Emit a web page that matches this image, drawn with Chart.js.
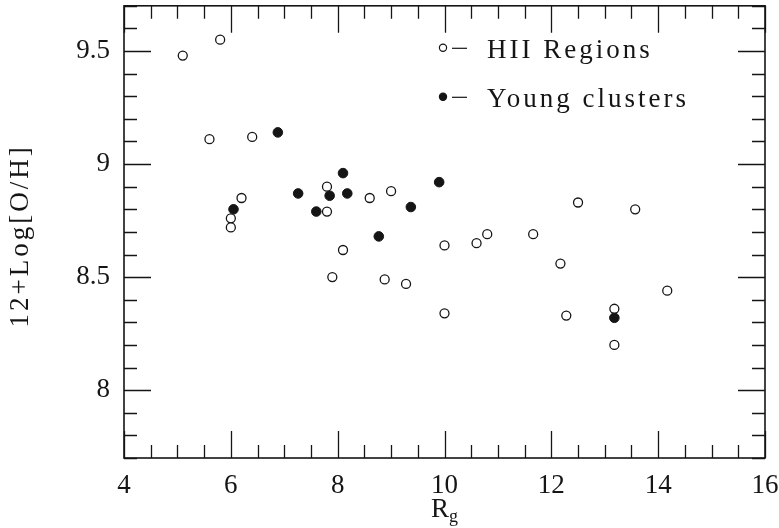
<!DOCTYPE html>
<html>
<head>
<meta charset="utf-8">
<script src="https://cdn.jsdelivr.net/npm/chart.js@4/dist/chart.umd.min.js"></script>
<style>
  html, body { margin: 0; padding: 0; background: #fff; }
  canvas { display: block; }
</style>
</head>
<body>
<canvas id="ohChart" width="779" height="528"></canvas>
<script>
(function () {
    // Galactocentric distance (kpc) and oxygen abundance
    const hiiR  = [5.1, 5.8, 5.6, 6.4, 6.2, 6.0, 6.0, 7.8, 7.8, 8.6, 9.0, 7.9, 8.1, 8.88,
                   9.28, 10.0, 10.0, 10.6, 10.8, 11.66, 12.17, 12.28, 12.5, 13.18, 13.18, 13.57, 14.17];
    const hiiOH = [9.48, 9.55, 9.11, 9.12, 8.85, 8.76, 8.72, 8.9, 8.79, 8.85, 8.88, 8.5, 8.62, 8.49,
                   8.47, 8.64, 8.34, 8.65, 8.69, 8.69, 8.56, 8.33, 8.83, 8.36, 8.2, 8.8, 8.44];

    const clusterR  = [6.05, 6.88, 7.26, 7.6, 7.85, 8.1, 8.18, 8.77, 9.37, 9.9, 13.18];
    const clusterOH = [8.8, 9.14, 8.87, 8.79, 8.86, 8.96, 8.87, 8.68, 8.81, 8.92, 8.32];

    const xTicks = [4, 6, 8, 10, 12, 14, 16];
    const yTicks = [8, 8.5, 9, 9.5];

    const ink = '#151515';
    const serif = '"Liberation Serif", "DejaVu Serif", serif';

    const toPoints = (xs, ys) => xs.map((x, i) => ({ x: x, y: ys[i] }));

    // no extra room for edge labels, the frame sets the plot box
    const noPad = s => { s.paddingTop = 0; s.paddingBottom = 0; s.paddingLeft = 0; s.paddingRight = 0; };

    // Frame with inward ticks on all four sides
    const frameTicks = {
        id: 'frameTicks',
        beforeDatasetsDraw(chart) {
            const { ctx, chartArea: a, scales: { x, y } } = chart;
            ctx.save();
            ctx.strokeStyle = ink;
            ctx.lineWidth = 1.3;
            ctx.beginPath();
            for (let v = 4; v <= 16.001; v += 0.5) {
                const px = Math.round(x.getPixelForValue(v)) + 0.5;
                const len = Math.abs(v / 2 - Math.round(v / 2)) < 1e-6 ? 27 : 13;
                ctx.moveTo(px, a.bottom); ctx.lineTo(px, a.bottom - len);
                ctx.moveTo(px, a.top); ctx.lineTo(px, a.top + len);
            }
            for (let k = 77; k <= 97; k++) {
                const v = k / 10;
                const py = Math.round(y.getPixelForValue(v)) + 0.5;
                const len = k % 5 === 0 ? 27 : 13;
                ctx.moveTo(a.left, py); ctx.lineTo(a.left + len, py);
                ctx.moveTo(a.right, py); ctx.lineTo(a.right - len, py);
            }
            ctx.stroke();
            ctx.lineWidth = 1.6;
            ctx.strokeRect(a.left, a.top, a.right - a.left, a.bottom - a.top);
            ctx.restore();
        },
        afterDraw(chart) {
            const { ctx, chartArea: a } = chart;
            ctx.save();
            ctx.fillStyle = ink;
            ctx.strokeStyle = ink;
            ctx.letterSpacing = '3px';
            ctx.font = '27px ' + serif;
            ctx.textBaseline = 'alphabetic';

            // axis titles
            ctx.save();
            ctx.translate(28, (a.top + a.bottom) / 2 + 4);
            ctx.rotate(-Math.PI / 2);
            ctx.textAlign = 'center';
            ctx.fillText('12+Log[O/H]', 0, 0);
            ctx.restore();

            ctx.textAlign = 'left';
            ctx.fillText('R', 431, 517);
            ctx.font = '18px ' + serif;
            ctx.fillText('g', 449, 522);

            // legend
            ctx.font = '27px ' + serif;
            const lx = a.right - 322;
            const rows = [
                { label: 'HII Regions', y: a.top + 42, filled: false },
                { label: 'Young clusters', y: a.top + 91, filled: true }
            ];
            rows.forEach(r => {
                ctx.lineWidth = 1.2;
                ctx.beginPath();
                ctx.arc(lx, r.y, 3.6, 0, Math.PI * 2);
                if (r.filled) { ctx.fill(); } else { ctx.fillStyle = '#fff'; ctx.fill(); ctx.fillStyle = ink; }
                ctx.stroke();
                ctx.beginPath();
                ctx.moveTo(lx + 9, r.y + 0.5);
                ctx.lineTo(lx + 24, r.y + 0.5);
                ctx.stroke();
                ctx.fillText(r.label, lx + 44, r.y + 10);
            });
            ctx.restore();
        }
    };

    new Chart(document.getElementById('ohChart'), {
        type: 'scatter',
        data: {
            datasets: [{
                label: 'HII Regions',
                data: toPoints(hiiR, hiiOH),
                pointStyle: 'circle',
                pointRadius: 4.5,
                borderWidth: 1.3,
                borderColor: ink,
                backgroundColor: '#fff'
            }, {
                label: 'Young clusters',
                data: toPoints(clusterR, clusterOH),
                pointStyle: 'circle',
                pointRadius: 4.8,
                borderWidth: 1,
                borderColor: ink,
                backgroundColor: ink
            }]
        },
        options: {
            responsive: false,
            animation: false,
            devicePixelRatio: 1,
            layout: { padding: { top: 5, right: 14, left: 0, bottom: 0 } },
            plugins: {
                legend: { display: false },
                tooltip: { enabled: false }
            },
            scales: {
                x: {
                    type: 'linear',
                    min: 4,
                    max: 16,
                    afterBuildTicks: s => { s.ticks = xTicks.map(v => ({ value: v })); },
                    afterFit: s => { s.height = 70; noPad(s); },
                    grid: { display: false, drawTicks: false },
                    border: { display: false },
                    ticks: {
                        color: ink,
                        padding: 12,
                        maxRotation: 0,
                        font: { family: serif, size: 27 },
                        callback: v => String(v)
                    }
                },
                y: {
                    type: 'linear',
                    min: 7.7,
                    max: 9.7,
                    afterBuildTicks: s => { s.ticks = yTicks.map(v => ({ value: v })); },
                    afterFit: s => { s.width = 124; noPad(s); },
                    grid: { display: false, drawTicks: false },
                    border: { display: false },
                    ticks: {
                        color: ink,
                        padding: 14,
                        font: { family: serif, size: 27 },
                        callback: v => String(v)
                    }
                }
            }
        },
        plugins: [frameTicks]
    });
})();
</script>
</body>
</html>
